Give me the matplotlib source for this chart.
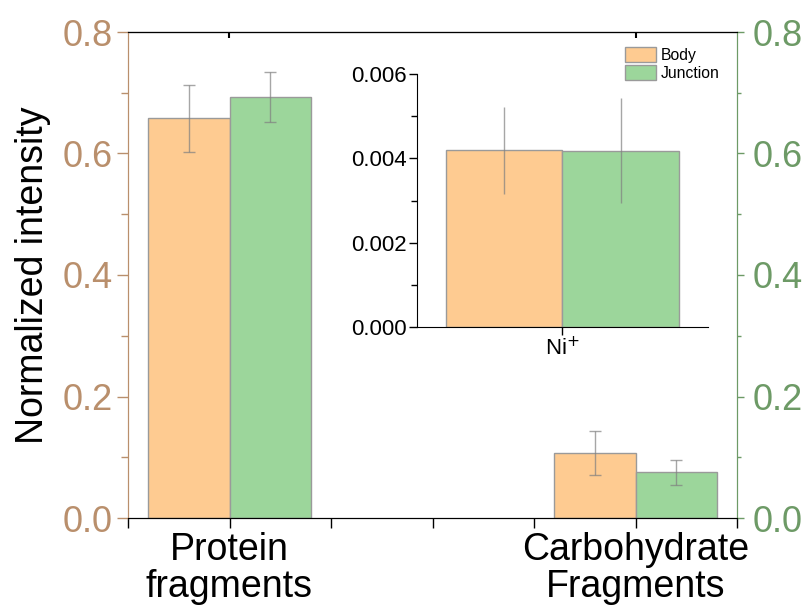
import numpy as np
import matplotlib.pyplot as plt
from matplotlib.ticker import FixedLocator, MultipleLocator

plt.rcParams['font.family'] = ['Liberation Sans', 'DejaVu Sans']

# data
categories = ['Protein\nfragments', 'Carbohydrate\nFragments']
body = [0.658, 0.1075]
body_err = [0.055, 0.036]
junction = [0.693, 0.0752]
junction_err = [0.041, 0.0206]

inset_cat = ['Ni$^{+}$']
inset_body = [0.00419]
inset_body_err = [0.00104]
inset_junction = [0.00418]
inset_junction_err = [0.00125]

c_body = '#FECB91'
c_junc = '#9CD69B'
c_left = '#B98F6C'
c_right = '#6D9A66'
c_edge = '#9A9A9A'
c_err = '#808080'

fig = plt.figure(figsize=(8.09, 6.14), dpi=100)
ax = fig.add_axes([128/809, 1-518/614, (737-128)/809, (518-32)/614])

x = np.arange(1, len(categories)+1)
w = 0.2
ekw = dict(ecolor=c_err, elinewidth=1, capsize=4, capthick=1, alpha=0.7)
ax.bar(x - w/2, body, w, color=c_body, edgecolor=c_edge, lw=1, yerr=body_err, error_kw=ekw, label='Body')
ax.bar(x + w/2, junction, w, color=c_junc, edgecolor=c_edge, lw=1, yerr=junction_err, error_kw=ekw, label='Junction')

ax.set_xlim(0.75, 2.25)
ax.set_ylim(0, 0.8)
ax.xaxis.set_major_locator(FixedLocator(x))
ax.xaxis.set_minor_locator(MultipleLocator(0.25))
ax.set_xticklabels(categories, fontsize=27, linespacing=1.05)
ax.tick_params(axis='x', which='both', direction='out', length=7, width=1, colors='black', pad=3, top=False)
ax.yaxis.set_major_locator(MultipleLocator(0.2))
ax.yaxis.set_minor_locator(MultipleLocator(0.1))
ax.tick_params(axis='y', which='major', direction='out', length=8, width=1, color=c_left, labelcolor=c_left, labelsize=26, pad=3)
ax.tick_params(axis='y', which='minor', direction='out', length=5, width=1, color=c_left)
ax.set_ylabel('Normalized intensity', fontsize=27, labelpad=8)
ax.spines['left'].set_color(c_left)
ax.spines['right'].set_color(c_right)

# top ticks: short, inside, only at the categories
ax_top = ax.secondary_xaxis('top')
ax_top.set_xticks(x)
ax_top.set_xticklabels([])
ax_top.tick_params(direction='in', length=4, width=1.5)
ax_top.xaxis.set_minor_locator(plt.NullLocator())

ax2 = ax.twinx()
ax2.set_ylim(0, 0.8)
ax2.yaxis.set_major_locator(MultipleLocator(0.2))
ax2.yaxis.set_minor_locator(MultipleLocator(0.1))
ax2.tick_params(axis='y', which='major', direction='out', length=5, width=1, color=c_right, labelcolor=c_right, labelsize=26, pad=6)
ax2.tick_params(axis='y', which='minor', direction='out', length=3, width=1, color=c_right)
ax2.spines['right'].set_color(c_right)
ax2.spines['left'].set_color(c_left)

# inset
axi = fig.add_axes([416.7/809, 1-326.7/614, (708-416.7)/809, (326.7-74.3)/614])
xi = np.arange(1, len(inset_cat)+1)
wi = 0.4
axi.bar(xi - wi/2, inset_body, wi, color=c_body, edgecolor=c_edge, lw=1, yerr=inset_body_err, error_kw=dict(ekw, capsize=0))
axi.bar(xi + wi/2, inset_junction, wi, color=c_junc, edgecolor=c_edge, lw=1, yerr=inset_junction_err, error_kw=dict(ekw, capsize=0))
axi.set_xlim(0.5, 1.5)
axi.set_ylim(0, 0.006)
axi.set_xticks(xi)
axi.set_xticklabels(inset_cat, fontsize=16)
axi.yaxis.set_major_locator(MultipleLocator(0.002))
axi.yaxis.set_minor_locator(MultipleLocator(0.001))
axi.yaxis.set_major_formatter(plt.FormatStrFormatter('%.3f'))
axi.tick_params(axis='both', which='major', direction='out', length=6, width=1, labelsize=16, pad=1)
axi.tick_params(axis='y', which='minor', direction='out', length=4, width=1)
axi.spines['top'].set_visible(False)
axi.spines['right'].set_visible(False)
axi.patch.set_alpha(0)

handles, labels = ax.get_legend_handles_labels()
fig.legend(handles, labels, loc='upper left', bbox_to_anchor=(625/809, 1-47/614),
           frameon=False, fontsize=11.3, handlelength=2.0, handleheight=1.1,
           handletextpad=0.3, labelspacing=0.12, borderpad=0, borderaxespad=0)

fig.savefig('out.png', dpi=100)
